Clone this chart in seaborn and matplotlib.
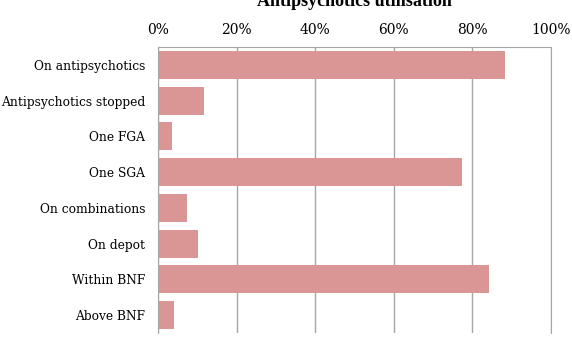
import pandas as pd
import seaborn as sns
import matplotlib.pyplot as plt
from matplotlib.ticker import PercentFormatter

categories = ["On antipsychotics", "Antipsychotics stopped", "One FGA", "One SGA",
              "On combinations", "On depot", "Within BNF", "Above BNF"]
values = [88.3, 11.8, 3.6, 77.4, 7.5, 10.3, 84.2, 4.0]

df = pd.DataFrame({"category": categories, "value": values})

sns.set_style("white")
plt.rcParams['font.family'] = ['DejaVu Serif']
plt.rcParams['text.color'] = 'black'
plt.rcParams['xtick.color'] = 'black'
plt.rcParams['ytick.color'] = 'black'

fig = plt.figure(figsize=(5.72, 3.38), dpi=100)
ax = fig.add_axes([158 / 572, 1 - 333 / 338, 393 / 572, 286 / 338])

sns.barplot(data=df, x="value", y="category", orient="h", color="#D99694",
            saturation=1, width=0.79, linewidth=0, ax=ax)

ax.set_xlim(0, 100)
ax.set_xticks([0, 20, 40, 60, 80, 100])
ax.xaxis.set_major_formatter(PercentFormatter(decimals=0))
ax.xaxis.tick_top()
ax.tick_params(axis="x", length=0, pad=7, labelsize=10)
ax.tick_params(axis="y", length=0, pad=9, labelsize=8.8)
ax.grid(axis="x", color="#A6A6A6", linewidth=1)
ax.set_axisbelow(True)
ax.set(xlabel=None, ylabel=None)

for side in ["top", "left", "right"]:
    ax.spines[side].set_visible(True)
    ax.spines[side].set_color("#A6A6A6")
ax.spines["bottom"].set_visible(False)

# title sits partly above the top edge, as in the source image
fig.text(354 / 572, 1 - 6 / 338, "Antipsychotics utilisation", ha="center", va="baseline",
         fontsize=13, fontweight="bold", family=["Liberation Serif", "DejaVu Serif"])

plt.savefig("out.png", dpi=100)
